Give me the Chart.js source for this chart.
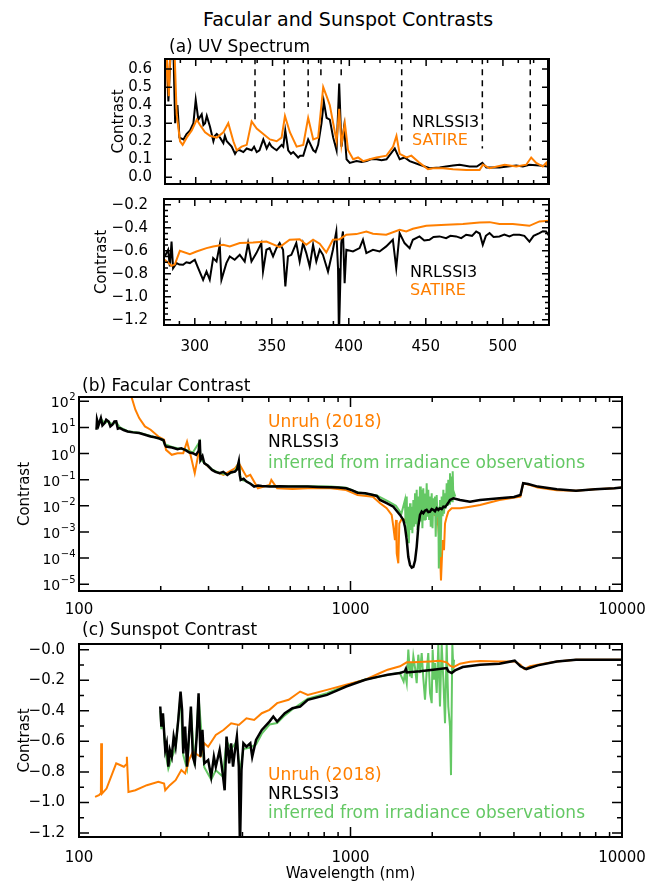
<!DOCTYPE html>
<html>
<head>
<meta charset="utf-8">
<script src="https://cdn.jsdelivr.net/npm/chart.js@4/dist/chart.umd.min.js"></script>
<style>
  body { margin: 0; background: #fff; width: 646px; height: 885px; position: relative; overflow: hidden; font-family: "DejaVu Sans", sans-serif; }
  canvas { position: absolute; left: 0; }
  .t { position: absolute; line-height: 1; white-space: nowrap; z-index: 2; }
  .blk { color: #000; }
  .org { color: rgb(255, 127, 0); }
  .grn { color: rgb(100, 200, 100); }
</style>
</head>
<body>
<canvas id="uvFac"></canvas>
<canvas id="uvSpot"></canvas>
<canvas id="facular"></canvas>
<canvas id="sunspot"></canvas>

<div class="t" style="left:203px;top:10px;font-size:19px">Facular and Sunspot Contrasts</div>
<div class="t" style="left:169px;top:38px;font-size:17px">(a) UV Spectrum</div>
<div class="t blk" style="left:412px;top:114px;font-size:16px">NRLSSI3</div>
<div class="t org" style="left:412px;top:132px;font-size:16px">SATIRE</div>
<div class="t blk" style="left:410px;top:264px;font-size:16px">NRLSSI3</div>
<div class="t org" style="left:410px;top:282px;font-size:16px">SATIRE</div>
<div class="t" style="left:82px;top:377px;font-size:17px">(b) Facular Contrast</div>
<div class="t org" style="left:268px;top:413px;font-size:17px">Unruh (2018)</div>
<div class="t blk" style="left:268px;top:433px;font-size:17px">NRLSSI3</div>
<div class="t grn" style="left:268px;top:454px;font-size:17px">inferred from irradiance observations</div>
<div class="t" style="left:82px;top:621px;font-size:17px">(c) Sunspot Contrast</div>
<div class="t org" style="left:268px;top:766px;font-size:17px">Unruh (2018)</div>
<div class="t blk" style="left:268px;top:785px;font-size:17px">NRLSSI3</div>
<div class="t grn" style="left:268px;top:804px;font-size:17px">inferred from irradiance observations</div>

<script>
// ---- panel (a) top: facular contrast in the UV, [wavelength nm, contrast]
const uvFacNrl = [[280.1,0.62],[281.1,0.7],[282.2,0.42],[283.7,0.7],[285.5,0.7],[286.6,0.3],[288.1,0.4],[289.4,0.22],
  [292,0.21],[294,0.24],[296.3,0.26],[298.5,0.3],[300,0.43],[301.7,0.32],[303.9,0.35],[305,0.29],[306.1,0.3],[307.2,0.34],
  [309.3,0.28],[311.5,0.2],[312.5,0.23],[313.7,0.24],[315.8,0.22],[318,0.19],[319,0.23],[320.2,0.2],[323.4,0.17],[325.6,0.13],
  [327,0.15],[328.8,0.15],[331,0.14],[333.2,0.16],[336.4,0.15],[338,0.17],[339.7,0.14],[341.5,0.15],[344,0.21],[346.2,0.16],
  [348,0.19],[349.4,0.17],[351,0.16],[352.7,0.15],[355.9,0.18],[357,0.17],[358.3,0.26],[360.2,0.15],[362,0.13],[363.5,0.14],
  [366.7,0.11],[368,0.12],[370,0.12],[373.2,0.21],[376.5,0.15],[378,0.14],[379.7,0.18],[381.9,0.3],[383.4,0.42],[385.2,0.33],
  [387.3,0.32],[389.5,0.22],[391.7,0.15],[393.4,0.52],[394.9,0.17],[396.6,0.28],[398.2,0.1],[400.3,0.08],[404.7,0.09],
  [408,0.085],[411.2,0.09],[414,0.1],[417.7,0.1],[421,0.095],[424.2,0.1],[429.6,0.16],[432.8,0.1],[436,0.11],[439.3,0.09],
  [445.8,0.07],[452.3,0.05],[458.8,0.055],[463,0.06],[467.5,0.065],[471.8,0.07],[478.3,0.06],[483,0.06],[486.6,0.08],
  [489.2,0.055],[497.8,0.055],[503,0.06],[508.7,0.065],[513,0.06],[517.3,0.07],[523.8,0.065],[529.3,0.06]];
const uvFacSat = [[280,0.45],[281.1,0.7],[282.5,0.45],[283.5,0.7],[286.2,0.7],[287.6,0.35],[289.8,0.2],[291.5,0.18],
  [294.1,0.22],[297.4,0.26],[300.7,0.32],[302.8,0.29],[306.1,0.25],[309.3,0.23],[313.7,0.22],[318,0.25],[321.2,0.3],
  [324.5,0.2],[326.7,0.15],[329.9,0.17],[333.2,0.18],[336.4,0.31],[339.7,0.27],[344,0.24],[348.3,0.21],[352.7,0.2],
  [355.9,0.22],[358.1,0.34],[361.3,0.25],[365.7,0.17],[370,0.18],[373.2,0.33],[376.5,0.21],[379.7,0.22],[383,0.5],
  [385.2,0.45],[387.3,0.4],[389.5,0.3],[391.7,0.2],[393.4,0.38],[394.9,0.18],[397.1,0.3],[399.2,0.15],[402.5,0.1],
  [405.7,0.11],[409,0.09],[413.3,0.1],[417.7,0.11],[424.2,0.12],[428.5,0.17],[430.7,0.23],[432.8,0.13],[437.2,0.11],
  [440.4,0.12],[445.8,0.08],[451.2,0.045],[454.5,0.05],[461,0.05],[467.5,0.045],[476.2,0.04],[484.8,0.04],[487,0.07],
  [491.3,0.05],[501.1,0.07],[508.7,0.06],[515.2,0.07],[518.4,0.11],[521.7,0.08],[526,0.06],[528.2,0.08],[530.3,0.04]];
// dashed marker lines: wavelength and lower end of each dash
const uvLineWl = [338.6, 357.6, 373.2, 381.5, 394.7, 434.1, 486.6, 517.8];
const uvLineEnd = [0.32, 0.37, 0.39, 0.54, 0.54, 0.19, 0.16, 0.15];

// ---- panel (a) bottom: sunspot contrast in the UV
const uvSpotNrl = [[280.5,-0.649],[282.7,-0.591],[283.8,-0.736],[284.9,-0.519],[285.9,-0.751],[288.1,-0.707],[290,-0.72],
  [292.4,-0.722],[294.5,-0.7],[296.8,-0.707],[300,-0.678],[302.2,-0.751],[305.4,-0.852],[307.6,-0.78],[309.7,-0.852],
  [311.9,-0.664],[314.1,-0.693],[316.2,-0.548],[317.3,-0.852],[320.5,-0.707],[322.7,-0.649],[325.9,-0.678],[329.2,-0.635],
  [332.4,-0.693],[334.6,-0.533],[336.8,-0.693],[340,-0.62],[343.2,-0.533],[344.3,-0.78],[346.5,-0.591],[348.6,-0.577],
  [350.8,-0.649],[353,-0.577],[355.1,-0.533],[357.3,-0.591],[358.8,-0.91],[360.5,-0.649],[362.7,-0.635],[365.9,-0.533],
  [368.1,-0.693],[370.3,-0.533],[372.4,-0.62],[374.6,-0.736],[376.8,-0.548],[378.9,-0.693],[381.1,-0.591],[383.2,-0.635],
  [386.5,-0.78],[389.7,-0.591],[391.9,-0.432],[393,-0.751],[393.6,-1.35],[395.1,-0.533],[396.2,-0.432],[397.3,-0.881],
  [398.4,-0.591],[402.7,-0.606],[407,-0.577],[409.2,-0.504],[411.4,-0.62],[415.7,-0.591],[420,-0.606],[424.3,-0.562],
  [428.6,-0.504],[430.8,-0.751],[433,-0.446],[436.2,-0.533],[439.5,-0.577],[441.6,-0.504],[445.9,-0.475],[449,-0.51],
  [452.4,-0.504],[455,-0.48],[458.9,-0.475],[463.2,-0.49],[466,-0.47],[469.7,-0.475],[473,-0.49],[476.2,-0.461],
  [480,-0.47],[482.7,-0.432],[485,-0.45],[487,-0.548],[489,-0.47],[491.4,-0.446],[494,-0.48],[497.8,-0.475],[501,-0.46],
  [504.3,-0.475],[507,-0.46],[510.8,-0.461],[514,-0.47],[517.3,-0.52],[520,-0.47],[523.8,-0.446],[526,-0.43],[528.1,-0.432],
  [530.3,-0.475]];
const uvSpotSat = [[280.5,-0.678],[284.9,-0.73],[287,-0.72],[290.3,-0.6],[296.8,-0.63],[301.1,-0.606],[307.6,-0.577],
  [311.9,-0.562],[318.4,-0.548],[322.7,-0.562],[329.2,-0.533],[337.8,-0.528],[346.5,-0.519],[355.1,-0.568],[361.6,-0.504],
  [368.1,-0.499],[372.4,-0.548],[376.8,-0.504],[381.1,-0.539],[385.4,-0.614],[389.7,-0.504],[394.1,-0.499],[398.4,-0.461],
  [404.9,-0.455],[411.4,-0.432],[415.7,-0.452],[424.3,-0.461],[433,-0.417],[437.3,-0.432],[441.6,-0.409],[450.3,-0.383],
  [463.2,-0.374],[474.1,-0.368],[484.9,-0.354],[491.4,-0.351],[497.8,-0.368],[506.5,-0.368],[517.3,-0.383],[523.8,-0.345],
  [530.3,-0.339]];

// ---- panel (b): facular contrast, 100-10000 nm
const facUnruh = [[153,200],[156.1,147],[161.3,48],[166.6,22.9],[174.9,11],[183.6,8.2],[196,4.5],[205.8,3.4],[209.2,1.39],
  [219.6,0.9],[230.6,1.04],[242.1,1.04],[250,2.9],[258.3,0.77],[266.9,0.177],[275.7,1.04],[289.4,0.43],[309,0.238],
  [340.5,0.153],[375.4,0.275],[387.8,0.43],[413.8,0.13],[427.5,0.153],[456,0.047],[503,0.063],[511,0.098],[536.7,0.047],
  [611.3,0.044],[696,0.047],[846,0.047],[963.5,0.04],[1062,0.026],[1209,0.0225],[1285,0.0126],[1359,0.0081],
  [1418,0.0045],[1438,0.0016],[1458,4.9e-4],[1471,0.0029],[1480,1.5e-4],[1500,6.3e-5],[1513,0.0021],[1540,0.003],
  [1600,0.003],[1700,0.004],[1800,0.004],[1900,0.005],[2000,0.005],[2077,0.004],[2106,0.0016],[2136,2.0e-4],
  [2154,1.4e-5],[2185,4.9e-4],[2210,2.0e-4],[2229,0.0021],[2261,0.0038],[2292,0.006],[2359,0.0081],[2531,0.0081],
  [2755,0.0093],[3000,0.0108],[3535,0.0168],[4227,0.0225],[4325,0.073],[4585,0.063],[4892,0.05],[5754,0.04],
  [6770,0.038],[7964,0.043],[9371,0.047],[10000,0.05]];
const facNrl = [[116,8.2],[116.5,19.8],[118,12],[120.4,22.9],[122,12],[124.3,14.7],[126,20],[128.5,17.1],[130.5,11],
  [132.7,12.7],[135,17],[137.1,17.1],[139,9],[141.6,9.5],[146,8],[151.1,7.0],[158,6.5],[166.6,6.1],[175,5.3],[183.6,4.5],
  [190,4.2],[196,3.9],[202.5,3.4],[205,3.2],[207.2,2.17],[209.2,1.87],[220,1.7],[230.6,1.48],[238,1.6],[246,1.39],
  [255,1.1],[262.6,1.04],[270,0.9],[276,1.3],[278.4,3.4],[280.2,0.575],[285,0.8],[289.4,0.43],[298,0.35],[309,0.238],
  [318,0.2],[329.6,0.177],[340,0.2],[351.8,0.153],[362,0.19],[375.4,0.205],[382,0.25],[387.8,0.497],[391,0.15],
  [394.1,0.0984],[404,0.11],[413.8,0.085],[428,0.07],[441.6,0.0546],[456,0.06],[471.3,0.0578],[503,0.0546],[550,0.056],
  [591.6,0.0546],[640,0.055],[696,0.0546],[760,0.053],[846,0.0514],[900,0.05],[963.5,0.047],[1010,0.04],[1062,0.032],
  [1133,0.0303],[1190,0.027],[1250,0.0239],[1285,0.0168],[1359,0.0126],[1438,0.0093],[1522,0.0045],[1565,0.0029],
  [1587,0.0016],[1611,4.9e-4],[1633,1.1e-4],[1657,5.4e-5],[1681,4.3e-5],[1704,4.6e-5],[1729,8e-5],[1753,2.7e-4],
  [1777,0.0016],[1803,0.0045],[1829,0.006],[1854,0.0052],[1880,0.0065],[1908,0.007],[1935,0.0058],[1963,0.006],
  [1990,0.0075],[2018,0.007],[2047,0.0062],[2077,0.0081],[2106,0.007],[2136,0.0081],[2167,0.0075],[2198,0.0093],
  [2229,0.009],[2261,0.0108],[2292,0.013],[2325,0.0168],[2393,0.0195],[2531,0.0168],[2755,0.0145],[3000,0.0168],
  [3535,0.0195],[4000,0.022],[4227,0.0261],[4325,0.0733],[4511,0.069],[4892,0.0546],[5754,0.043],[6770,0.038],
  [7964,0.043],[9371,0.047],[10000,0.05]];
const facObs = [[116,9],[118,13],[120.4,21],[124.3,15],[128.5,17],[132.7,13],[137.1,16],[141.6,10],[151.1,7.2],
  [166.6,6.3],[183.6,4.7],[202.5,3.5],[207.2,2.3],[220,1.8],[230.6,1.6],[246,1.45],[262.6,1.1],[278.4,2.9],[280.2,0.6],
  [289.4,0.45],[309,0.25],[329.6,0.18],[351.8,0.16],[375.4,0.21],[387.8,0.45],[394.1,0.1],[413.8,0.088],[441.6,0.057],
  [503,0.057],[591.6,0.056],[696,0.056],[846,0.055],[963.5,0.049],[1062,0.033],[1250,0.025],[1377,0.015],[1470,0.01],
  [1540,0.005],[1587,0.0168],[1595,0.0021],[1611,0.0226],[1620,6.6e-4],[1633,0.0093],[1640,3.7e-4],[1657,0.0126],
  [1665,0.0012],[1681,0.0093],[1690,8.9e-4],[1704,0.0168],[1715,0.0016],[1729,0.03],[1740,0.002],[1753,0.041],
  [1765,0.0012],[1777,0.0226],[1790,0.003],[1803,0.055],[1815,0.0025],[1829,0.041],[1840,0.0014],[1854,0.047],
  [1868,0.003],[1881,0.03],[1895,0.0029],[1908,0.073],[1920,0.0038],[1934,0.041],[1948,0.0029],[1963,0.0226],
  [1975,0.0016],[1991,0.03],[2005,0.0014],[2018,0.0195],[2030,0.0045],[2047,0.0226],[2060,6.6e-4],[2077,0.026],
  [2090,0.0038],[2106,0.0093],[2115,4e-5],[2136,0.0168],[2145,1.1e-4],[2167,0.0226],[2185,0.004],[2198,0.041],
  [2210,0.005],[2229,0.03],[2245,0.008],[2261,0.073],[2280,0.01],[2292,0.099],[2310,0.012],[2325,0.178],[2340,0.014],
  [2359,0.132],[2370,0.015],[2379,0.21],[2393,0.0168],[2410,0.03],[2432,0.0225]];

// ---- panel (c): sunspot contrast, 100-10000 nm
const spotUnruh = [[114.6,-0.963],[118.4,-0.952],[120.4,-0.94],[120.7,-0.613],[121.5,-0.942],[126.3,-0.909],[132.7,-0.81],
  [137.1,-0.744],[141.6,-0.755],[146.3,-0.766],[149.5,-0.75],[150.1,-0.701],[152.1,-0.931],[161.3,-0.92],[177.8,-0.887],
  [196,-0.865],[205.8,-0.876],[207.8,-0.92],[216.1,-0.887],[226.9,-0.854],[238.2,-0.788],[246,-0.81],[254.1,-0.723],
  [262.6,-0.668],[280.2,-0.701],[289.4,-0.613],[299,-0.635],[319.1,-0.558],[340.5,-0.526],[363.4,-0.482],[387.8,-0.493],
  [413.8,-0.449],[441.6,-0.46],[471.3,-0.416],[503,-0.394],[536.7,-0.35],[591.6,-0.328],[652.5,-0.274],[696,-0.296],
  [819,-0.263],[963.5,-0.23],[1133,-0.197],[1285,-0.153],[1371,-0.131],[1522,-0.109],[1611,-0.083],[1704,-0.083],
  [1963,-0.077],[2136,-0.072],[2261,-0.083],[2325,-0.105],[2393,-0.114],[2531,-0.092],[2755,-0.079],[3000,-0.074],
  [3535,-0.077],[4026,-0.077],[4227,-0.099],[4367,-0.127],[4585,-0.109],[4892,-0.099],[5754,-0.077],[6770,-0.066],
  [7964,-0.066],[10000,-0.066]];
const spotNrl = [[199.2,-0.372],[201.1,-0.504],[203.8,-0.416],[207.8,-0.657],[210.5,-0.613],[213.3,-0.766],[216.1,-0.657],
  [219.6,-0.701],[223.2,-0.569],[226.9,-0.635],[232.1,-0.46],[236.6,-0.274],[239.7,-0.394],[242.1,-0.679],[246,-0.504],
  [250,-0.766],[254.1,-0.569],[258.3,-0.372],[262.6,-0.701],[266.9,-0.744],[271.3,-0.569],[275.7,-0.285],[280.2,-0.701],
  [284.8,-0.525],[289.4,-0.744],[299,-0.723],[306.8,-0.832],[313.9,-0.701],[319.1,-0.766],[329.6,-0.657],[338.2,-0.81],
  [343.9,-0.92],[349.5,-0.569],[357.5,-0.744],[363.4,-0.613],[369.3,-0.766],[375.4,-0.657],[381.5,-0.569],[387.8,-0.766],
  [391.6,-1.3],[396.7,-0.788],[403.2,-0.613],[413.8,-0.635],[427.5,-0.613],[434.5,-0.701],[448.8,-0.591],[471.3,-0.525],
  [503,-0.471],[519.6,-0.438],[536.7,-0.471],[572.8,-0.416],[611.3,-0.383],[652.5,-0.372],[696,-0.328],[819,-0.296],
  [903,-0.263],[963.5,-0.241],[1133,-0.197],[1285,-0.175],[1371,-0.164],[1522,-0.153],[1587,-0.142],[1600,-0.127],
  [1611,-0.149],[1803,-0.142],[2018,-0.131],[2261,-0.12],[2292,-0.142],[2359,-0.153],[2427,-0.136],[2590,-0.114],
  [3000,-0.099],[3535,-0.092],[4026,-0.072],[4227,-0.109],[4439,-0.127],[4892,-0.103],[5754,-0.077],[6770,-0.066],
  [7964,-0.066],[10000,-0.066]];
const spotObs = [[199.2,-0.4],[201.1,-0.52],[203.8,-0.43],[207.8,-0.66],[213.3,-0.78],[219.6,-0.71],[226.9,-0.64],
  [236.6,-0.3],[242.1,-0.69],[250,-0.78],[258.3,-0.4],[266.9,-0.76],[275.7,-0.31],[289.4,-0.77],[306.8,-0.85],
  [319.1,-0.79],[338.2,-0.83],[349.5,-0.6],[363.4,-0.65],[381.5,-0.6],[391.6,-0.8],[403.2,-0.65],[427.5,-0.64],
  [448.8,-0.62],[471.3,-0.55],[503,-0.49],[536.7,-0.48],[572.8,-0.43],[611.3,-0.39],[696,-0.32],[819,-0.285],
  [963.5,-0.235],[1133,-0.195],[1333,-0.17],[1518,-0.15],[1569,-0.208],[1587,-0.153],[1611,-0.219],[1633,0.0],
  [1657,-0.175],[1671,-0.088],[1681,-0.186],[1704,-0.044],[1729,-0.12],[1753,-0.219],[1777,-0.033],[1803,-0.153],
  [1829,-0.022],[1854,-0.186],[1881,-0.328],[1908,-0.142],[1934,-0.022],[1963,-0.284],[1991,-0.35],[2007,0.0],
  [2030,-0.197],[2047,-0.088],[2077,-0.284],[2106,0.033],[2136,-0.372],[2167,0.033],[2198,-0.197],[2229,-0.482],
  [2261,0.033],[2292,-0.372],[2325,-0.503],[2345,-0.821],[2372,0.033],[2393,-0.131],[2406,-0.066]];

// ---- tick values and labels
const uvMajor = [300, 350, 400, 450, 500];
const uvMajorText = ['300', '350', '400', '450', '500'];
const uvMinor = [290, 310, 320, 330, 340, 360, 370, 380, 390, 410, 420, 430, 440, 460, 470, 480, 490, 510, 520];
const uvFacY = [0, 0.1, 0.2, 0.3, 0.4, 0.5, 0.6];
const uvFacYText = ['0.0', '0.1', '0.2', '0.3', '0.4', '0.5', '0.6'];
const uvSpotY = [-1.2, -1.0, -0.8, -0.6, -0.4, -0.2];
const uvSpotYText = ['\u22121.2', '\u22121.0', '\u22120.8', '\u22120.6', '\u22120.4', '\u22120.2'];
const uvSpotYMinor = [-1.15, -1.1, -1.05, -0.95, -0.9, -0.85, -0.75, -0.7, -0.65, -0.55, -0.5, -0.45, -0.35, -0.3, -0.25, -0.15];
const wlMajor = [100, 1000, 10000];
const wlMajorText = ['100', '1000', '10000'];
const wlMinor = [200, 300, 400, 500, 600, 700, 800, 900, 2000, 3000, 4000, 5000, 6000, 7000, 8000, 9000];
const facY = [1e-5, 1e-4, 1e-3, 1e-2, 1e-1, 1, 10, 100];
const facYExp = ['\u22125', '\u22124', '\u22123', '\u22122', '\u22121', '0', '1', '2'];
const spotY = [-1.2, -1.0, -0.8, -0.6, -0.4, -0.2, 0];
const spotYText = ['\u22121.2', '\u22121.0', '\u22120.8', '\u22120.6', '\u22120.4', '\u22120.2', '\u22120.0'];
const spotYMinor = [-1.1, -0.9, -0.7, -0.5, -0.3, -0.1];

const BLACK = '#000';
const ORANGE = 'rgb(255, 127, 0)';
const GREEN = 'rgb(100, 200, 100)';
const FONT = '"DejaVu Sans", sans-serif';

Chart.defaults.font.family = FONT;
Chart.defaults.color = '#000';

// IDL-style box with inward ticks on all four sides, x tick labels and 10^n labels for log axes
const framePlugin = {
  id: 'frame',
  afterDatasetsDraw(chart, args, opts) {
    const { ctx, chartArea: a, scales: { x, y } } = chart;
    ctx.save();
    ctx.strokeStyle = '#000';
    ctx.lineWidth = 1.5;
    const xt = (vals, len) => vals.forEach(v => {
      const p = x.getPixelForValue(v);
      if (p < a.left - 0.5 || p > a.right + 0.5) return;
      ctx.beginPath();
      ctx.moveTo(p, a.bottom); ctx.lineTo(p, a.bottom - len);
      ctx.moveTo(p, a.top); ctx.lineTo(p, a.top + len);
      ctx.stroke();
    });
    const yt = (vals, len) => vals.forEach(v => {
      const p = y.getPixelForValue(v);
      if (p < a.top - 0.5 || p > a.bottom + 0.5) return;
      ctx.beginPath();
      ctx.moveTo(a.left, p); ctx.lineTo(a.left + len, p);
      ctx.moveTo(a.right, p); ctx.lineTo(a.right - len, p);
      ctx.stroke();
    });
    xt(opts.xMajor || [], opts.major);
    xt(opts.xMinor || [], opts.minor);
    yt(opts.yMajor || [], opts.major);
    yt(opts.yMinor || [], opts.minor);
    ctx.lineWidth = 2;
    ctx.strokeRect(a.left, a.top, a.width, a.height);
    ctx.fillStyle = '#000';
    if (opts.xLabels) {
      const { values, text, baseline } = opts.xLabels;
      ctx.font = '15px ' + FONT;
      ctx.textAlign = 'center';
      ctx.textBaseline = 'alphabetic';
      values.forEach((v, i) => ctx.fillText(text[i], x.getPixelForValue(v), a.bottom + baseline));
    }
    if (opts.expLabels) {
      const { values, exps } = opts.expLabels;
      ctx.textBaseline = 'alphabetic';
      ctx.textAlign = 'left';
      values.forEach((v, i) => {
        const p = y.getPixelForValue(v);
        ctx.font = '10px ' + FONT;
        const ew = ctx.measureText(exps[i]).width;
        ctx.font = '14px ' + FONT;
        const bw = ctx.measureText('10').width;
        const x0 = a.left - 4 - ew - bw;
        ctx.fillText('10', x0, p + 6);
        ctx.font = '10px ' + FONT;
        ctx.fillText(exps[i], x0 + bw + 0.5, p - 1);
      });
    }
    ctx.restore();
  }
};

const toXY = arr => arr.map(([x, y]) => ({ x, y }));
const line = (data, color, width, extra) => Object.assign({
  data: toXY(data), borderColor: color, borderWidth: width, pointRadius: 0, tension: 0, fill: false
}, extra || {});

function makePanel(id, box, xs, ys, datasets, frame) {
  const cv = document.getElementById(id);
  cv.width = 646; cv.height = box.height;
  cv.style.top = box.top + 'px';
  return new Chart(cv, {
    type: 'line',
    data: { datasets },
    options: {
      responsive: false, animation: false, devicePixelRatio: 1,
      layout: { padding: {
        left: box.left - ys.width, right: 646 - box.right,
        top: box.plotTop - box.top, bottom: box.top + box.height - box.plotBottom - xs.height
      } },
      plugins: { legend: { display: false }, tooltip: { enabled: false }, frame },
      scales: {
        x: {
          type: xs.type, min: xs.min, max: xs.max,
          grid: { display: false }, border: { display: false },
          afterFit: s => { s.height = xs.height; s.paddingLeft = 0; s.paddingRight = 0; },
          afterBuildTicks: s => { s.ticks = xs.ticks.map(v => ({ value: v })); },
          ticks: { display: false },
          title: { display: !!xs.title, text: xs.title || '', padding: 0, font: { size: 15, lineHeight: 1.2 } }
        },
        y: {
          type: ys.type, min: ys.min, max: ys.max,
          grid: { display: false }, border: { display: false },
          afterFit: s => { s.width = ys.width; s.paddingTop = 0; s.paddingBottom = 0; },
          afterBuildTicks: s => { s.ticks = ys.ticks.map(v => ({ value: v })); },
          ticks: { display: !!ys.text, autoSkip: false, padding: ys.pad, font: { size: 15, lineHeight: 1.2 },
                   callback: (v, i) => ys.text ? ys.text[i] : '' },
          title: { display: true, text: 'Contrast', padding: 0, font: { size: 15, lineHeight: 1.2 } }
        }
      }
    },
    plugins: [framePlugin]
  });
}

// (a) top
const dashSets = uvLineWl.map((wl, i) => line([[wl, 0.66], [wl, uvLineEnd[i]]], BLACK, 1.5, { borderDash: [6, 5] }));
makePanel('uvFac',
  { top: 30, height: 160, left: 165, right: 549, plotTop: 59, plotBottom: 184 },
  { type: 'linear', min: 280, max: 530, height: 0, ticks: uvMajor },
  { type: 'linear', min: -0.037, max: 0.656, width: 55, pad: 5, ticks: uvFacY, text: uvFacYText },
  [...dashSets,
   line([[530, -0.1], [530, 0.7]], BLACK, 4),
   line(uvFacSat, ORANGE, 2),
   line(uvFacNrl, BLACK, 2)],
  { xMajor: uvMajor, xMinor: uvMinor, yMajor: uvFacY, major: 7, minor: 4 });

// (a) bottom
makePanel('uvSpot',
  { top: 190, height: 180, left: 164, right: 549, plotTop: 199, plotBottom: 325 },
  { type: 'linear', min: 280, max: 530, height: 32, ticks: uvMajor },
  { type: 'linear', min: -1.245, max: -0.15, width: 70.5, pad: 8, ticks: uvSpotY, text: uvSpotYText },
  [line(uvSpotSat, ORANGE, 2), line(uvSpotNrl, BLACK, 2)],
  { xMajor: uvMajor, xMinor: uvMinor, yMajor: uvSpotY, yMinor: uvSpotYMinor, major: 7, minor: 4,
    xLabels: { values: uvMajor, text: uvMajorText, baseline: 25.5 } });

// (b)
makePanel('facular',
  { top: 392, height: 235, left: 79, right: 622, plotTop: 397, plotBottom: 591 },
  { type: 'logarithmic', min: 100, max: 10000, height: 30, ticks: wlMajor },
  { type: 'logarithmic', min: 5.5e-6, max: 147, width: 63, pad: 4, ticks: facY, text: null },
  [line(facNrl, BLACK, 2.5), line(facObs, GREEN, 2), line(facUnruh, ORANGE, 2)],
  { xMajor: wlMajor, xMinor: wlMinor, yMajor: facY, major: 10, minor: 5,
    xLabels: { values: wlMajor, text: wlMajorText, baseline: 23 },
    expLabels: { values: facY, exps: facYExp } });

// (c)
makePanel('sunspot',
  { top: 638, height: 247, left: 79, right: 622, plotTop: 644, plotBottom: 837 },
  { type: 'logarithmic', min: 100, max: 10000, height: 46, ticks: wlMajor, title: 'Wavelength (nm)' },
  { type: 'linear', min: -1.226, max: 0.037, width: 63, pad: 6, ticks: spotY, text: spotYText },
  [line(spotNrl, BLACK, 2.5), line(spotUnruh, ORANGE, 2), line(spotObs, GREEN, 2)],
  { xMajor: wlMajor, xMinor: wlMinor, yMajor: spotY, yMinor: spotYMinor, major: 10, minor: 5,
    xLabels: { values: wlMajor, text: wlMajorText, baseline: 24.5 } });
</script>
</body>
</html>
